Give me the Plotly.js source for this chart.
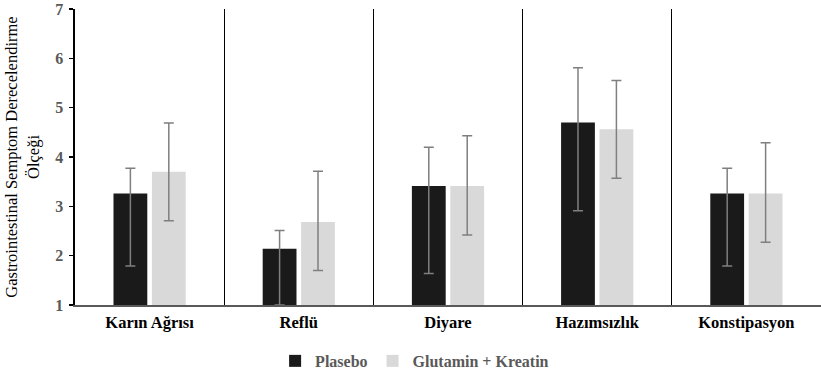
<!DOCTYPE html>
<html>
<head>
<meta charset="utf-8">
<script src="https://cdn.plot.ly/plotly-3.0.1.min.js"></script>
<style>html,body{margin:0;padding:0;background:#fff;}#chart{width:821px;height:376px;}</style>
</head>
<body>
<div id="chart"></div>
<script>
const categories = ["Karın Ağrısı", "Reflü", "Diyare", "Hazımsızlık", "Konstipasyon"];
const seriesNames = ["Plasebo", "Glutamin + Kreatin"];
const plaseboMean = [3.26, 2.14, 3.41, 4.70, 3.26];
const plaseboErrPlus = [0.51, 0.37, 0.79, 1.11, 0.51];
const plaseboErrMinus = [1.47, 1.14, 1.77, 1.79, 1.47];
const glutaminMean = [3.70, 2.68, 3.41, 4.56, 3.26];
const glutaminErrPlus = [0.99, 1.03, 1.02, 0.99, 1.03];
const glutaminErrMinus = [0.99, 0.98, 0.99, 0.99, 0.99];
const yTicks = [1, 2, 3, 4, 5, 6, 7];

const serif = '"Liberation Serif", "Times New Roman", Times, serif';
const errStyle = {type: "data", symmetric: false, color: "#7f7f7f", thickness: 1.5, width: 5};

const traces = [
  {
    type: "bar", name: seriesNames[0], x: categories, y: plaseboMean,
    marker: {color: "#1a1a1a"},
    error_y: Object.assign({array: plaseboErrPlus, arrayminus: plaseboErrMinus}, errStyle)
  },
  {
    type: "bar", name: seriesNames[1], x: categories, y: glutaminMean,
    marker: {color: "#d9d9d9"},
    error_y: Object.assign({array: glutaminErrPlus, arrayminus: glutaminErrMinus}, errStyle)
  }
];

const layout = {
  width: 821, height: 376,
  margin: {l: 75, r: 0, t: 9, b: 71},
  paper_bgcolor: "#fff", plot_bgcolor: "#fff",
  barmode: "group", bargap: 0.485, bargroupgap: 0.12,
  font: {family: serif, color: "#000"},
  xaxis: {
    type: "category",
    tickson: "boundaries",
    showgrid: true, gridcolor: "#000", gridwidth: 1.3,
    ticks: "", ticklen: 0,
    ticklabelstandoff: 2,
    showline: true, linecolor: "#595959", linewidth: 1.5,
    tickfont: {family: serif, size: 16.5, color: "#000", weight: "bold"},
    zeroline: false
  },
  yaxis: {
    range: [1, 7], tickmode: "array", tickvals: yTicks, ticktext: yTicks.map(String),
    ticklabeloverflow: "allow",
    showgrid: false, zeroline: false,
    showline: true, linecolor: "#000", linewidth: 2.5,
    ticks: "outside", ticklen: 4, tickwidth: 1.5, tickcolor: "#000",
    ticklabelstandoff: 2,
    tickfont: {family: serif, size: 16, color: "#595959", weight: "bold"},
    title: {
      text: "Gastrointestinal Semptom Derecelendirme<br>Ölçeği",
      font: {family: serif, size: 16.5, color: "#000"},
      standoff: 12
    }
  },
  legend: {
    orientation: "h", xref: "container", yref: "container",
    x: 0.505, xanchor: "center", y: 0.04, yanchor: "middle",
    font: {family: serif, size: 16, color: "#595959", weight: "bold"},
    itemwidth: 30, traceorder: "normal"
  },
  showlegend: true
};

Plotly.newPlot("chart", traces, layout, {displayModeBar: false, staticPlot: true});
</script>
</body>
</html>
